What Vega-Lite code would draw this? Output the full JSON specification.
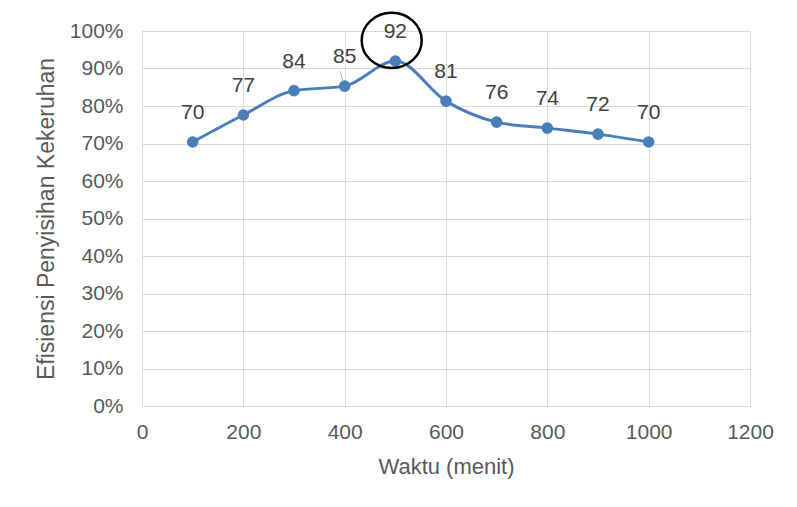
{
  "$schema": "https://vega.github.io/schema/vega-lite/v6.json",
  "width": 608,
  "height": 375,
  "autosize": {"type": "none"},
  "padding": {"left": 142, "top": 31, "right": 47, "bottom": 101},
  "background": "white",
  "config": {
    "view": {"stroke": null},
    "font": "Liberation Sans",
    "axis": {
      "gridColor": "#d9d9d9",
      "gridWidth": 1,
      "domain": false,
      "ticks": false,
      "labelColor": "#595959",
      "titleColor": "#595959",
      "labelFont": "Liberation Sans",
      "titleFont": "Liberation Sans",
      "labelFontSize": 21,
      "titleFontSize": 22,
      "titleFontWeight": "normal",
      "labelOverlap": false,
      "labelFlush": false
    }
  },
  "datasets": {
    "series": [
      {"waktu": 100, "eff": 70.4, "label": "70"},
      {"waktu": 200, "eff": 77.6, "label": "77"},
      {"waktu": 300, "eff": 84.1, "label": "84"},
      {"waktu": 400, "eff": 85.3, "label": "85"},
      {"waktu": 500, "eff": 92.0, "label": "92"},
      {"waktu": 600, "eff": 81.3, "label": "81"},
      {"waktu": 700, "eff": 75.7, "label": "76"},
      {"waktu": 800, "eff": 74.1, "label": "74"},
      {"waktu": 900, "eff": 72.5, "label": "72"},
      {"waktu": 1000, "eff": 70.4, "label": "70"}
    ],
    "highlight": [{"waktu": 492.8, "eff": 97.5}],
    "leader": [{"waktu": 390.8, "eff": 89.3, "waktu2": 396.7, "eff2": 86.4}]
  },
  "encoding": {
    "x": {
      "field": "waktu", "type": "quantitative",
      "scale": {"domain": [0, 1200], "nice": false},
      "axis": {"values": [0, 200, 400, 600, 800, 1000, 1200], "format": "d", "title": "Waktu (menit)", "labelPadding": 15, "titlePadding": 14}
    },
    "y": {
      "field": "eff", "type": "quantitative",
      "scale": {"domain": [0, 100], "nice": false},
      "axis": {"values": [0, 10, 20, 30, 40, 50, 60, 70, 80, 90, 100], "labelExpr": "datum.value + '%'", "title": "Efisiensi Penyisihan Kekeruhan", "titleFontSize": 23, "labelPadding": 19, "titlePadding": 11}
    }
  },
  "layer": [
    {
      "data": {"name": "series"},
      "mark": {"type": "line", "interpolate": "monotone", "color": "#4a7ebb", "strokeWidth": 3}
    },
    {
      "data": {"name": "series"},
      "mark": {"type": "point", "filled": true, "opacity": 1, "color": "#4a7ebb", "size": 135}
    },
    {
      "data": {"name": "series"},
      "mark": {"type": "text", "dy": -29, "fontSize": 21, "color": "#404040", "font": "Liberation Sans"},
      "encoding": {
        "text": {"field": "label"}
      }
    },
    {
      "data": {"name": "leader"},
      "mark": {"type": "rule", "color": "#a6a6a6", "strokeWidth": 0.8},
      "encoding": {
        "x2": {"field": "waktu2"},
        "y2": {"field": "eff2"}
      }
    },
    {
      "data": {"name": "highlight"},
      "mark": {"type": "point", "shape": "M-1,0A1,0.92 0 1,0 1,0A1,0.92 0 1,0 -1,0Z", "filled": false, "stroke": "black", "strokeWidth": 2.5, "size": 3600, "opacity": 1}
    }
  ]
}
